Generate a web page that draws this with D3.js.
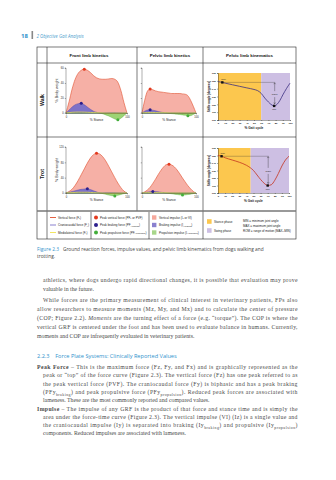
<!DOCTYPE html>
<html><head><meta charset="utf-8">
<script src="https://cdn.jsdelivr.net/npm/d3@7"></script>
<style>body{margin:0;background:#fff}svg{display:block}</style>
</head><body>
<script>
// ---------- DATA ----------
const stancePct = [0,5,10,15,20,25,30,35,40,45,50,55,60,65,70,75,80,85,90,95,100];
const frontWalkFz = [0,15,32,45,53,57,58.5,57,54,50,47,45.5,45,45,45.5,46,45,41,30,14,0];
const frontWalkFy = [0,4,8,11,12.5,13,11,8,5,2.5,1,0,-1,-2.5,-4,-6,-8,-9,-7,-3.5,0];
const frontWalkFx = [0,0.5,1,1.2,1.3,1.3,1.2,1,0.8,0.6,0.4,0.2,0,-0.2,-0.3,-0.4,-0.4,-0.3,-0.2,-0.1,0];
const pelvicWalkFz = [0,17,29,32,31,29.5,28.5,28,27.5,27,26.5,26,26,26,26,25.5,25,23,17,9,0];
const pelvicWalkFy = [0,2.5,4,4.5,3.8,3,2,1.2,0.5,0,-0.5,-0.8,-1.2,-1.6,-2,-2.5,-3,-3.5,-3.5,-2,0];
const pelvicWalkFx = [0,0.4,0.6,0.7,0.7,0.6,0.5,0.4,0.3,0.2,0.1,0,0,0,0,0,0,0,0,0,0];
const frontTrotFz = [0,4,10,20,33,48,63,78,91,100,104,102,95,84,70,55,40,26,14,5,0];
const frontTrotFy = [0,2,4,6,8,9.5,10.5,11,9,6,3,0.5,-1.5,-3.5,-5.5,-7,-7.5,-6,-4,-1.5,0];
const frontTrotFx = [0,0.5,1,1.5,2,2,2,2,1.5,1,0.5,0,-0.5,-1,-1,-1,-0.8,-0.5,-0.3,-0.1,0];
const pelvicTrotFz = [0,3,8,15,25,36,48,59,68,74,75,73,68,60,50,39,29,19,11,4,0];
const pelvicTrotFy = [0,1.5,2.5,3.5,4,4,3,2,1,0,-1,-2,-3,-4,-5,-5.5,-5,-4,-3,-1.5,0];
const pelvicTrotFx = [0,0.5,1,1,1,1,1,1,0.5,0.5,0,0,0,0,0,0,0,0,0,0,0];
const walkForceTicks = [0,20,40,60];
const trotForceTicks = [0,40,80,120];

const kinWalkPct = [0,6,10,20,30,40,50,55,60,65,70,75,78,82,86,90,95,100];
const kinWalkDeg = [149,148,147,145,143,141,139,137.5,134,128,123,119,118,120,125,132,140,147];
const kinTrotPct = [0,5,10,20,30,40,45,50,55,60,65,70,75,80,85,90,95,100];
const kinTrotDeg = [150,149,147,144,141,137,134,130,124,118,113,110,111,117,126,136,144,149];
const walkStanceEnd = 60;
const trotStanceEnd = 46;
const angleTicks = [100,110,120,130,140,150,160];
const gaitTicks = [0,10,20,30,40,50,60,70,80,90,100];

const columnHeaders = ["Front limb kinetics","Pelvic limb kinetics","Pelvic limb kinematics"];
const rowLabels = ["Walk","Trot"];
const legendLines = ["Vertical force (F_{z})","Craniocaudal force (F_{y})","Mediolateral force (F_{x})"];
const legendDots = ["Peak vertical force (PF_{z} or PVF)","Peak braking force (PF_{y braking})","Peak propulsive force (PF_{y propulsion})"];
const legendImpulses = ["Vertical impulse (I_{z} or VI)","Braking impulse (I_{y braking})","Propulsive impulse (I_{y propulsion})"];
const legendPhases = ["Stance phase","Swing phase"];
const legendAbbr = ["MIN = minimum joint angle","MAX = maximum joint angle","ROM = range of motion (MAX\u2013MIN)"];

const headerNum = "18";
const headerTitle = "2 Objective Gait Analysis";
const captionLabel = "Figure 2.3";
const captionLines = ["Ground reaction forces, impulse values, and pelvic limb kinematics from dogs walking and","trotting."];
const para1 = [
 ["athletics, where dogs undergo rapid directional changes, it is possible that evaluation may prove",1],
 ["valuable in the future.",0]];
const para2 = [
 ["While forces are the primary measurement of clinical interest in veterinary patients, FPs also",1],
 ["allow researchers to measure moments (Mz, My, and Mx) and to calculate the center of pressure",1],
 ["(COP; Figure 2.2). *Moments* are the turning effect of a force (e.g. \u201ctorque\u201d). The COP is where the",1],
 ["vertical GRF is centered under the foot and has been used to evaluate balance in humans. Currently,",1],
 ["moments and COP are infrequently evaluated in veterinary patients.",0]];
const sectionHeading = "2.2.3\u2002\u2002Force Plate Systems: Clinically Reported Values";
const para3 = [
 ["**Peak Force** \u2013 This is the maximum force (Fz, Fy, and Fx) and is graphically represented as the",1],
 ["peak or \u201ctop\u201d of the force curve (Figure 2.3). The vertical force (Fz) has one peak referred to as",1],
 ["the peak vertical force (PVF). The craniocaudal force (Fy) is biphasic and has a peak braking",1],
 ["(PFy_{braking}) and peak propulsive force (PFy_{propulsion}). Reduced peak forces are associated with",1],
 ["lameness. These are the most commonly reported and compared values.",0],
 ["**Impulse** \u2013 The impulse of any GRF is the product of that force and stance time and is simply the",1],
 ["area under the force-time curve (Figure 2.3). The vertical impulse (VI) (Iz) is a single value and",1],
 ["the craniocaudal impulse (Iy) is separated into braking (Iy_{braking}) and propulsive (Iy_{propulsion})",1],
 ["components. Reduced impulses are associated with lameness.",0]];

// ---------- DRAW ----------
const W=336,H=480;
const svg=d3.select("body").append("svg").attr("width",W).attr("height",H);
svg.append("rect").attr("width",W).attr("height",H).attr("fill","#fff");
const SANS="'Liberation Sans', Arial, sans-serif";
const OPEN="'Open Sans', 'Liberation Sans', sans-serif";
const SERIF="'Liberation Serif', 'Times New Roman', serif";
const BLUE="#2f92cc";

function rich(sel, str, size){
  const re=/(\*\*[^*]+\*\*|\*[^*]+\*|_\{[^}]+\})/g;
  const parts=str.split(re).filter(s=>s!=="");
  let shifted=false;
  parts.forEach(p=>{
    const t=sel.append("tspan");
    if(p.startsWith("_{")){ t.attr("font-size",size*0.68).attr("dy",size*0.28).text(p.slice(2,-1)); shifted=true; return; }
    if(p.startsWith("**")) t.attr("font-weight","bold").text(p.slice(2,-2));
    else if(p.startsWith("*")) t.attr("font-style","italic").text(p.slice(1,-1));
    else t.text(p);
    if(shifted){ t.attr("dy",-size*0.28); shifted=false; }
  });
}

// page header
svg.append("text").attr("x",21).attr("y",37.5).attr("font-family",OPEN).attr("font-size",6).attr("font-weight","bold").attr("fill",BLUE).text(headerNum);
svg.append("rect").attr("x",31.5).attr("y",31).attr("width",1.6).attr("height",8).attr("fill","#888");
svg.append("text").attr("x",36.5).attr("y",37.5).attr("font-family",OPEN).attr("font-size",4.4).attr("font-style","italic").attr("fill","#4a9ccc").text(headerTitle);

// table layout
const L=37,R=296,T=47,HB=63,RD=137,LT=211,B=239,C0=47,C1=137,C2=203;
const tbl=svg.append("g").attr("stroke","#222").attr("stroke-width",0.6).attr("fill","none");
tbl.append("rect").attr("x",L).attr("y",T).attr("width",R-L).attr("height",B-T);
[[L,HB,R,HB],[L,RD,R,RD],[C0,T,C0,B],[C1,T,C1,LT],[C2,T,C2,B]].forEach(d=>tbl.append("line").attr("x1",d[0]).attr("y1",d[1]).attr("x2",d[2]).attr("y2",d[3]));
tbl.append("line").attr("x1",L).attr("x2",R).attr("y1",LT).attr("y2",LT).attr("stroke","#777").attr("stroke-width",1.6);
const legDiv=[91,149];
legDiv.forEach(x=>tbl.append("line").attr("x1",x).attr("x2",x).attr("y1",LT+1).attr("y2",B));

const colCenters=[(C0+C1)/2-3,(C1+C2)/2,(C2+R)/2];
columnHeaders.forEach((h,i)=>svg.append("text").attr("x",colCenters[i]).attr("y",57).attr("text-anchor","middle").attr("font-family",SANS).attr("font-size",4.4).attr("font-weight","bold").attr("fill","#111").text(h));
const rowCenters=[(HB+RD)/2,(RD+LT)/2];
rowLabels.forEach((r,i)=>svg.append("text").attr("transform",`translate(44,${rowCenters[i]}) rotate(-90)`).attr("text-anchor","middle").attr("font-family",SANS).attr("font-size",5.2).attr("font-weight","bold").attr("fill","#111").text(r));

// kinetics chart
function kinetics(xr,y0,ytop,ticks,Fz,Fy,Fx,showY){
  const g=svg.append("g");
  const x=d3.scaleLinear().domain([0,100]).range(xr);
  const y=d3.scaleLinear().domain([0,d3.max(ticks)]).range([y0,ytop]);
  const cv=d3.curveMonotoneX;
  const areaFz=d3.area().x((d,i)=>x(stancePct[i])).y0(y(0)).y1(d=>y(d)).curve(cv);
  const lineOf=d3.line().x((d,i)=>x(stancePct[i])).y(d=>y(d)).curve(cv);
  g.append("path").attr("d",areaFz(Fz)).attr("fill","#f6b0a6");
  g.append("path").attr("d",lineOf(Fz)).attr("fill","none").attr("stroke","#e0502f").attr("stroke-width",0.6);
  const pos=Fy.map(v=>Math.max(v,0)), neg=Fy.map(v=>Math.min(v,0));
  g.append("path").attr("d",areaFz(pos)).attr("fill","#7d72c8").attr("stroke","#4a3fa5").attr("stroke-width",0.4);
  g.append("path").attr("d",areaFz(neg)).attr("fill","#9dd374").attr("stroke","#54ad3e").attr("stroke-width",0.4);
  g.append("path").attr("d",lineOf(Fx)).attr("fill","none").attr("stroke","#f2e34f").attr("stroke-width",0.7);
  // axes
  const xa=g.append("g").attr("transform",`translate(0,${y(0)})`).call(d3.axisBottom(x).tickValues([0,100]).tickSize(1.2).tickPadding(1.5));
  const ya=g.append("g").attr("transform",`translate(${xr[0]},0)`).call(d3.axisLeft(y).tickValues(ticks).tickSize(1.2).tickPadding(1.2));
  if(!showY) ya.selectAll("text").remove();
  [xa,ya].forEach(a=>{a.selectAll("path,line").attr("stroke","#333").attr("stroke-width",0.4);a.selectAll("text").attr("font-size",2.6).attr("font-family",SANS).attr("fill","#222");});
  ya.select("path").attr("d",`M-1.2,${y(d3.max(ticks))}H0V${y(0)}H-1.2`);
  g.append("text").attr("x",(xr[0]+xr[1])/2).attr("y",y0+8).attr("text-anchor","middle").attr("font-family",SANS).attr("font-size",3.2).attr("fill","#222").text("% Stance");
  if(showY) g.append("text").attr("transform",`translate(${xr[0]-8},${(y0+ytop)/2}) rotate(-90)`).attr("text-anchor","middle").attr("font-family",SANS).attr("font-size",3.6).attr("fill","#222").text("% Body weight");
  // peaks
  const iz=d3.maxIndex(Fz), ib=d3.maxIndex(Fy), ip=d3.minIndex(Fy);
  [[iz,Fz[iz],"#e33a1e"],[ib,Fy[ib],"#2c1f8c"],[ip,Fy[ip],"#43ad3a"]].forEach(p=>
    g.append("circle").attr("cx",x(stancePct[p[0]])).attr("cy",y(p[1])).attr("r",1.5).attr("fill",p[2]));
}
kinetics([66,127],113,68,walkForceTicks,frontWalkFz,frontWalkFy,frontWalkFx,true);
kinetics([142,196],113,68,walkForceTicks,pelvicWalkFz,pelvicWalkFy,pelvicWalkFx,false);
kinetics([66,127],193,147,trotForceTicks,frontTrotFz,frontTrotFy,frontTrotFx,true);
kinetics([142,196],193,147,trotForceTicks,pelvicTrotFz,pelvicTrotFy,pelvicTrotFx,false);

// kinematics chart
function kinematics(xr,ybot,ytop,pct,deg,stanceEnd,lineColor){
  const g=svg.append("g");
  const x=d3.scaleLinear().domain([0,100]).range(xr);
  const y=d3.scaleLinear().domain([100,160]).range([ybot,ytop]);
  g.append("rect").attr("x",x(0)).attr("y",y(160)).attr("width",x(stanceEnd)-x(0)).attr("height",y(100)-y(160)).attr("fill","#fcc74e");
  g.append("rect").attr("x",x(stanceEnd)).attr("y",y(160)).attr("width",x(100)-x(stanceEnd)).attr("height",y(100)-y(160)).attr("fill","#cdbfe3");
  const xa=g.append("g").attr("transform",`translate(0,${ybot})`).call(d3.axisBottom(x).tickValues(gaitTicks).tickSize(1).tickPadding(1));
  const ya=g.append("g").attr("transform",`translate(${xr[0]},0)`).call(d3.axisLeft(y).tickValues(angleTicks).tickSize(1).tickPadding(1));
  [xa,ya].forEach(a=>{a.selectAll("path,line").attr("stroke","#222").attr("stroke-width",0.4);a.selectAll("text").attr("font-size",2.5).attr("font-family",SANS).attr("font-weight","bold").attr("fill","#222");});
  g.append("text").attr("x",(xr[0]+xr[1])/2).attr("y",ybot+8.5).attr("text-anchor","middle").attr("font-family",SANS).attr("font-weight","bold").attr("font-size",3.2).attr("fill","#222").text("% Gait cycle");
  g.append("text").attr("transform",`translate(${xr[0]-8.5},${(ybot+ytop)/2}) rotate(-90)`).attr("text-anchor","middle").attr("font-family",SANS).attr("font-weight","bold").attr("font-size",3.1).attr("fill","#222").text("Stifle angle (degrees)");
  const iMax=d3.maxIndex(deg.slice(1))+1, iMin=d3.minIndex(deg);
  const mx=x(pct[iMax]), my=y(deg[iMax]), nx=x(pct[iMin]), ny=y(deg[iMin]);
  g.append("line").attr("x1",mx).attr("x2",nx+1).attr("y1",my).attr("y2",my).attr("stroke","#333").attr("stroke-width",0.3);
  g.append("path").attr("d",d3.line().x((d,i)=>x(pct[i])).y(d=>y(d)).curve(d3.curveMonotoneX)(deg)).attr("fill","none").attr("stroke",lineColor).attr("stroke-width",0.8);
  const ax=nx+0.5, mid=(my+ny)/2;
  g.append("line").attr("x1",ax).attr("x2",ax).attr("y1",my+0.5).attr("y2",mid-3).attr("stroke","#222").attr("stroke-width",0.35);
  g.append("line").attr("x1",ax).attr("x2",ax).attr("y1",mid+3).attr("y2",ny-2).attr("stroke","#222").attr("stroke-width",0.35);
  g.append("path").attr("d",`M${ax-0.9},${my+1.8}L${ax},${my+0.4}L${ax+0.9},${my+1.8}`).attr("fill","none").attr("stroke","#222").attr("stroke-width",0.35);
  g.append("path").attr("d",`M${ax-0.9},${ny-3.4}L${ax},${ny-2}L${ax+0.9},${ny-3.4}`).attr("fill","none").attr("stroke","#222").attr("stroke-width",0.35);
  g.append("text").attr("x",ax).attr("y",mid+0.9).attr("text-anchor","middle").attr("font-family",SANS).attr("font-size",2.4).attr("fill","#222").text("ROM");
  g.append("rect").attr("x",mx-1.2).attr("y",my-1.2).attr("width",2.4).attr("height",2.4).attr("fill","#111");
  g.append("rect").attr("x",nx-1.2).attr("y",ny-1.2).attr("width",2.4).attr("height",2.4).attr("fill","#111");
  g.append("text").attr("x",mx-1).attr("y",my-2.2).attr("font-family",SANS).attr("font-size",2.4).attr("fill","#222").text("max");
  g.append("text").attr("x",nx).attr("y",ny+4.2).attr("text-anchor","middle").attr("font-family",SANS).attr("font-size",2.4).attr("fill","#222").text("min");
}
kinematics([218,290],120,73,kinWalkPct,kinWalkDeg,walkStanceEnd,"#3b2f80");
kinematics([218,289],193,148,kinTrotPct,kinTrotDeg,trotStanceEnd,"#c4331f");

// legend
const legRows=[217.5,225,232.5];
const LFS=3;
function legText(x,y,s){const t=svg.append("text").attr("x",x).attr("y",y+1).attr("font-family",SANS).attr("font-size",LFS).attr("fill","#222");rich(t,s,LFS);}
const lineCols=["#e0502f","#7d72c8","#f2e34f"];
legendLines.forEach((s,i)=>{svg.append("line").attr("x1",50).attr("x2",56).attr("y1",legRows[i]).attr("y2",legRows[i]).attr("stroke",lineCols[i]).attr("stroke-width",0.9);legText(58,legRows[i],s);});
const dotCols=["#e33a1e","#2c1f8c","#43ad3a"];
legendDots.forEach((s,i)=>{svg.append("circle").attr("cx",96).attr("cy",legRows[i]).attr("r",2).attr("fill",dotCols[i]);legText(100,legRows[i],s);});
const impCols=["#f6a89c","#8a80cf","#a8d68a"];
legendImpulses.forEach((s,i)=>{svg.append("rect").attr("x",152).attr("y",legRows[i]-2.2).attr("width",4.4).attr("height",4.4).attr("fill",impCols[i]);legText(159,legRows[i],s);});
const phaseCols=["#fcc74e","#cdbfe3"];
const phaseRows=[221.5,230.5];
legendPhases.forEach((s,i)=>{svg.append("rect").attr("x",207).attr("y",phaseRows[i]-2.3).attr("width",4.6).attr("height",4.6).attr("fill",phaseCols[i]);legText(214,phaseRows[i],s);});
legendAbbr.forEach((s,i)=>legText(243,[220.5,225.5,230.5][i],s));

// caption
const cap=svg.append("text").attr("x",37).attr("y",250.5).attr("font-family",OPEN).attr("font-size",4.8).attr("fill","#444");
cap.append("tspan").attr("fill",BLUE).text(captionLabel);
cap.append("tspan").attr("dx",4).text(captionLines[0]);
svg.append("text").attr("x",37).attr("y",257.5).attr("font-family",OPEN).attr("font-size",4.8).attr("fill","#444").text(captionLines[1]);

// body text
const BFS=5.8, RIGHT=297.5, BODY="#4a4a4a";
function para(lines,y0,step,xFirst,xRest){
  lines.forEach((ln,i)=>{
    const x=i===0?xFirst:xRest;
    const t=svg.append("text").attr("x",x).attr("y",y0+i*step).attr("font-family",SERIF).attr("font-size",BFS).attr("fill",BODY);
    rich(t,ln[0],BFS);
    if(ln[1]) t.attr("textLength",RIGHT-x).attr("lengthAdjust","spacing");
  });
}
para(para1,282,9,43,43);
para(para2,301.5,9,43,37);
svg.append("text").attr("x",37).attr("y",357.5).attr("font-family",OPEN).attr("font-size",5.6).attr("fill",BLUE).text(sectionHeading);
function hang(lines,y0,step){
  lines.forEach((ln,i)=>{
    const first=ln[0].startsWith("**");
    const x=first?37:43;
    const t=svg.append("text").attr("x",x).attr("y",y0+i*step).attr("font-family",SERIF).attr("font-size",BFS).attr("fill",BODY);
    rich(t,ln[0],BFS);
    if(ln[1]) t.attr("textLength",RIGHT-x).attr("lengthAdjust","spacing");
  });
}
hang(para3,369,8.3);
</script>
</body></html>
